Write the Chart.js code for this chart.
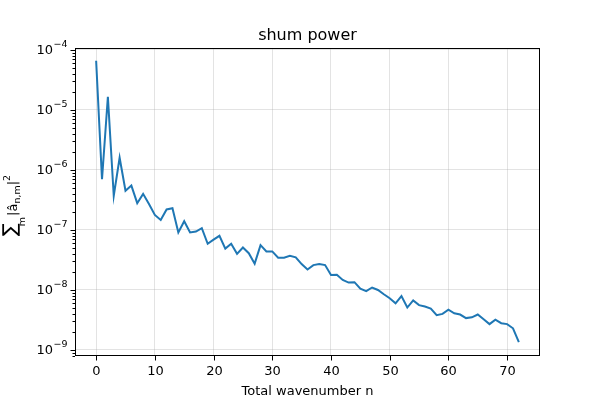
<!DOCTYPE html>
<html>
<head>
<meta charset="utf-8">
<script src="https://cdn.jsdelivr.net/npm/chart.js@4"></script>
<style>
  body { margin: 0; background: #fff; }
  #wrap { width: 600px; height: 400px; }
</style>
</head>
<body>
<div id="wrap"><canvas id="powerChart" width="600" height="400"></canvas></div>
<script>
/* data */
const wavenumbers = [0,1,2,3,4,5,6,7,8,9,10,11,12,13,14,15,16,17,18,19,20,21,22,23,24,25,26,27,28,29,30,31,32,33,34,35,36,37,38,39,40,41,42,43,44,45,46,47,48,49,50,51,52,53,54,55,56,57,58,59,60,61,62,63,64,65,66,67,68,69,70,71,72];
const shumPower = [
    6.6e-5, 7.0e-7, 1.66e-5, 3.7e-7, 1.6e-6, 4.5e-7, 5.5e-7, 2.8e-7, 4.0e-7, 2.7e-7,
    1.78e-7, 1.47e-7, 2.2e-7, 2.3e-7, 9.1e-8, 1.4e-7, 9.1e-8, 9.4e-8, 1.07e-7, 5.9e-8,
    6.9e-8, 8.0e-8, 4.9e-8, 5.9e-8, 4.0e-8, 5.1e-8, 4.1e-8, 2.75e-8, 5.6e-8, 4.4e-8,
    4.4e-8, 3.45e-8, 3.45e-8, 3.7e-8, 3.5e-8, 2.7e-8, 2.2e-8, 2.6e-8, 2.7e-8, 2.6e-8,
    1.78e-8, 1.8e-8, 1.47e-8, 1.33e-8, 1.35e-8, 1.05e-8, 9.6e-9, 1.1e-8, 1.0e-8, 8.5e-9,
    7.3e-9, 6.0e-9, 7.9e-9, 5.1e-9, 6.7e-9, 5.6e-9, 5.3e-9, 4.9e-9, 3.8e-9, 4.0e-9,
    4.7e-9, 4.1e-9, 3.9e-9, 3.4e-9, 3.5e-9, 3.9e-9, 3.25e-9, 2.7e-9, 3.2e-9, 2.8e-9,
    2.7e-9, 2.3e-9, 1.35e-9
];
const xTicks = [0, 10, 20, 30, 40, 50, 60, 70];
const yExponents = [-9, -8, -7, -6, -5, -4];

const FONT = "'DejaVu Sans', sans-serif";

// minor ticks 2..9 x 10^k
function logTicks() {
    const out = [];
    for (let e = -10; e <= -4; e++) {
        for (let m = 1; m <= 9; m++) {
            const v = m * Math.pow(10, e);
            if (v >= 7.9e-10 && v <= 1.08e-4) out.push({ value: v, major: m === 1 });
        }
    }
    return out;
}

/* frame, tick marks and texts */
const decorations = {
    id: "decorations",
    afterDraw(chart) {
        const c = chart.ctx;
        const area = chart.chartArea;
        const xs = chart.scales.x, ys = chart.scales.y;
        c.save();
        c.strokeStyle = "#000";
        c.lineWidth = 1;
        c.strokeRect(Math.round(area.left) + 0.5, Math.round(area.top) + 0.5,
                     Math.round(area.right - area.left) - 1, Math.round(area.bottom - area.top) - 1);

        // x tick marks + labels
        c.fillStyle = "#000";
        c.font = "13px " + FONT;
        c.textAlign = "center";
        c.textBaseline = "top";
        xTicks.forEach(t => {
            const px = Math.round(xs.getPixelForValue(t)) + 0.5;
            c.beginPath();
            c.moveTo(px, area.bottom);
            c.lineTo(px, area.bottom + 4.5);
            c.stroke();
            c.fillText(String(t), px, area.bottom + 9);
        });

        // y tick marks
        logTicks().forEach(t => {
            const py = Math.round(ys.getPixelForValue(t.value)) + 0.5;
            c.beginPath();
            c.moveTo(area.left, py);
            c.lineTo(area.left - (t.major ? 4.5 : 2.5), py);
            c.stroke();
        });

        // y labels 10^k
        c.textBaseline = "middle";
        c.textAlign = "left";
        yExponents.forEach(e => {
            const py = ys.getPixelForValue(Math.pow(10, e));
            const sup = "\u2212" + Math.abs(e);
            c.font = "9.5px " + FONT;
            const wSup = c.measureText(sup).width;
            c.font = "13px " + FONT;
            const wBase = c.measureText("10").width;
            const x0 = area.left - 8 - wSup - wBase;
            c.fillText("10", x0, py + 1);
            c.font = "9.5px " + FONT;
            c.fillText(sup, x0 + wBase + 0.5, py - 5);
        });

        // title and x label
        c.textAlign = "center";
        c.textBaseline = "alphabetic";
        c.font = "16px " + FONT;
        c.fillText("shum power", (area.left + area.right) / 2, 40);
        c.font = "13px " + FONT;
        c.fillText("Total wavenumber n", (area.left + area.right) / 2, 395);

        // y label: sum_m |a_hat_{n,m}|^2, rotated
        c.translate(17, 236);
        c.rotate(-Math.PI / 2);
        c.textAlign = "left";
        let x = 0;
        c.font = "19px " + FONT;
        c.fillText("\u2211", x, -1);
        x += c.measureText("\u2211").width;
        c.font = "9.5px " + FONT;
        c.fillText("m", x - 3, 8);
        x += c.measureText("m").width - 2;
        c.font = "13px " + FONT;
        c.fillText("|", x, 0);
        x += c.measureText("|").width;
        c.fillText("\u00e2", x, 0);
        x += c.measureText("\u00e2").width;
        c.font = "9.5px " + FONT;
        c.fillText("n,m", x, 3);
        x += c.measureText("n,m").width;
        c.font = "13px " + FONT;
        c.fillText("|", x, 0);
        x += c.measureText("|").width;
        c.font = "9.5px " + FONT;
        c.fillText("2", x, -7);
        c.restore();
    }
};

const ctx = document.getElementById("powerChart");

new Chart(ctx, {
    type: "line",
    data: {
        datasets: [{
            data: wavenumbers.map((n, i) => ({ x: n, y: shumPower[i] })),
            borderColor: "#1f77b4",
            borderWidth: 2,
            pointRadius: 0,
            tension: 0,
            fill: false
        }]
    },
    options: {
        responsive: false,
        animation: false,
        devicePixelRatio: 1,
        layout: { padding: { left: 0, right: 60, top: 48, bottom: 0 } },
        plugins: {
            legend: { display: false },
            tooltip: { enabled: false }
        },
        scales: {
            x: {
                type: "linear",
                min: -3.6,
                max: 75.6,
                afterBuildTicks: (s) => { s.ticks = xTicks.map(v => ({ value: v })); },
                afterFit: (s) => { s.height = 44; },
                ticks: { display: false },
                border: { display: false },
                grid: { color: "rgba(176,176,176,0.35)", lineWidth: 1, drawTicks: false }
            },
            y: {
                type: "logarithmic",
                min: Math.pow(10, -9.1),
                max: Math.pow(10, -3.967),
                afterBuildTicks: (s) => { s.ticks = logTicks(); },
                afterFit: (s) => { s.width = 75; },
                ticks: { display: false },
                border: { display: false },
                grid: {
                    drawTicks: false,
                    lineWidth: 1,
                    color: (c) => (c.tick && c.tick.major) ? "rgba(176,176,176,0.35)" : "rgba(0,0,0,0)"
                }
            }
        }
    },
    plugins: [decorations]
});
</script>
</body>
</html>
